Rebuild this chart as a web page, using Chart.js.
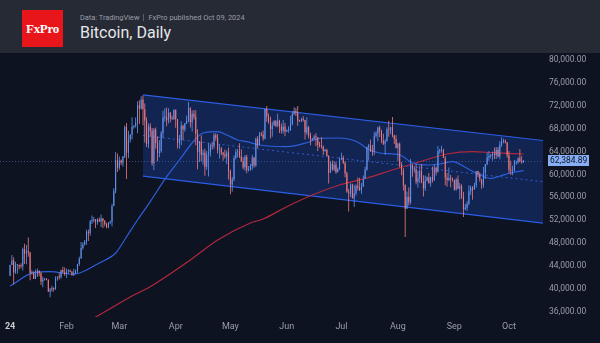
<!DOCTYPE html>
<html><head><meta charset="utf-8">
<script src="https://cdn.jsdelivr.net/npm/chart.js@4.4.1/dist/chart.umd.min.js"></script>
<style>
html,body{margin:0;padding:0;width:600px;height:343px;overflow:hidden;background:#0d1321;font-family:Roboto,"Noto Sans",sans-serif;}
#hdr{position:absolute;left:0;top:0;width:600px;height:53px;background:#262a35;}
#logo{position:absolute;left:22px;top:10px;width:41px;height:37px;background:#e8161b;color:#fff;font:bold 13px "Liberation Serif","DejaVu Serif",serif;display:flex;align-items:center;justify-content:center;letter-spacing:-0.3px;}
#sub{position:absolute;left:80px;top:13px;font-size:7.4px;line-height:9px;color:#9a9ea8;white-space:nowrap;}
#sub .sep{display:inline-block;width:1px;height:7px;background:#5a5f6b;margin:0 4px;vertical-align:-1px;}
#title{position:absolute;left:80px;top:23px;font-size:16px;line-height:19px;color:#e6e7ea;white-space:nowrap;}
#wrap{position:absolute;left:0;top:53px;width:600px;height:290px;}
</style></head>
<body>
<div id="hdr">
  <div id="logo">FxPro</div>
  <div id="sub">Data: TradingView<span class="sep"></span>FxPro published Oct 09, 2024</div>
  <div id="title">Bitcoin, Daily</div>
</div>
<div id="wrap"><canvas id="c" width="600" height="290"></canvas></div>
<script>
// Daily candles, 1 Jan 2024 (day 0) .. 9 Oct 2024 (day 282), one line per month
const opens = [
42280,44180,44950,42850,44150,44160,43960,43930,46970,46120,46630,46350,42780,42840,41740,42510,43150,42740,41270,41620,41680,41560,39540,39890,40090,39960,41820,42120,42030,43300,42950,
42580,43080,43190,43000,42580,42660,43090,44340,45290,47130,47770,48290,49960,49730,51830,51940,52150,51670,52140,51780,52280,51850,51330,50740,51570,51730,54490,57050,62500,
61170,62440,62030,63140,68300,63800,66110,66930,68300,68500,69020,72100,71480,73100,71400,69410,65300,68390,67600,61940,67850,65500,63780,64060,67230,69950,69990,69450,70780,69850,69630,
71290,69650,65460,65960,68500,67840,68900,69360,71620,69140,70590,70060,67120,63920,65740,63430,63800,61280,63470,63820,64940,64930,66840,66410,64290,64500,63770,63460,63120,63840,
60610,58250,59120,62890,63890,64030,63160,62330,61190,63070,60790,60830,61480,62920,61580,66250,65230,67040,66940,66280,71450,70140,69120,67930,68530,69280,68510,69390,68350,67620,68360,
67500,67750,67790,68800,70570,71080,70800,69360,69300,69650,69510,67320,68240,66750,66010,66190,66640,66490,65150,64960,64850,64100,64250,63200,60280,61800,60860,61680,60370,60940,
62680,62850,62030,60200,57000,56650,58250,55850,56700,57990,57720,57330,57890,59220,60800,64730,65050,64100,63980,66700,67150,68180,67590,65930,65380,65800,67900,67820,68250,66790,66200,
64620,65350,61500,60700,58120,54020,56050,55120,61700,60880,60950,58700,59350,60600,58740,57560,58880,59480,58450,59490,59020,61170,60390,64100,64180,64250,62880,59420,59040,59380,59120,
58970,57330,59130,57490,57980,56160,53950,54160,54880,57050,57650,57340,58130,60550,60020,59180,58210,60310,61760,62950,63200,63380,63600,63330,64300,63140,65180,65790,65880,65620,
63330,60800,60650,60750,62080,62090,62820,62250,62150];
const highs = [
44190,45900,45500,44750,44350,44230,44480,47240,47900,47650,48970,46500,43250,43080,43400,43570,43200,42930,42150,41880,41900,41690,40130,40540,40270,42200,42200,42800,43300,43840,43730,
43550,43420,43380,43100,43500,43370,44370,45600,48200,48150,48550,50330,50370,52040,52820,52570,52180,52350,52490,52980,52370,52030,51550,51700,51960,54890,57580,63920,63670,
63150,62600,63240,68550,69000,67640,67000,69990,68590,69940,72800,72950,73650,73780,72400,70000,68900,68950,68100,68100,68200,66650,65970,67600,71150,71550,71700,71550,70900,70300,71350,
71340,69670,66900,69280,68700,69000,70300,72700,71740,71170,71270,71230,67900,65850,66850,64350,64480,64100,65450,65390,65700,67200,67200,67070,65280,64800,63900,64350,64200,64720,
60800,59570,63300,64400,64500,65450,64380,62980,63400,63450,61450,61800,63420,63100,66450,66700,67400,67400,67670,71500,71950,70630,70090,69200,69500,69500,70600,69550,68900,69500,69000,
67850,68400,70250,71050,71750,71600,71950,69550,69900,70150,69560,69980,68450,67300,66400,66950,67200,66500,65700,66480,65070,64500,64500,63370,62300,62450,62300,62200,61200,63000,
63800,63250,62250,60480,57500,58450,58350,58200,58300,59450,59400,58500,59800,61350,64900,65350,66100,65150,67400,67600,68350,68500,67800,67100,66150,68250,69400,68300,70050,66950,66850,
65600,65600,62150,61100,58300,57000,57700,62700,61750,61450,61850,60650,61550,61800,59850,59800,59650,60250,59600,61400,61800,61400,64950,64500,65000,64500,63200,60250,61200,59900,59450,
59100,59400,59800,58500,58300,56950,54850,55300,58100,58000,57950,58550,60600,60650,60400,59200,61300,61800,63850,64100,63550,64000,64700,64800,64800,65850,66500,66250,66100,65620,
64100,62400,61500,62500,62400,63000,64450,63200,62500];
const lows = [
42190,44150,40750,42630,42620,43400,43600,43200,44350,44300,45600,41500,42440,41710,41720,42050,42200,40690,40280,41460,41500,39440,38520,39490,39540,39830,41400,41650,41800,42700,42300,
41880,42580,42880,42250,42260,42580,42780,44000,45250,46850,47560,47700,48350,49300,51330,51600,50650,51200,51680,50800,50650,50950,50580,50600,51300,50900,54450,56700,60420,
60800,61650,61360,62890,59220,62850,65600,66100,67980,68200,67200,68800,71350,68600,65600,64800,64600,66600,61500,60780,64500,62300,63000,63800,66400,69250,68400,68900,69100,69600,69560,
68150,64550,64500,65100,66000,67450,68800,69100,68220,67500,69580,65100,60900,62150,62300,61750,59750,60800,59650,63150,64290,64500,65900,63650,62800,63350,62400,62800,61800,59100,
56550,56950,58800,62600,62950,62850,62200,60900,60650,60200,60500,60630,60800,61150,61330,64630,65100,66650,65870,66100,69200,68850,66300,66600,68500,68250,68250,67250,67150,67150,66650,
67400,67300,67600,68570,70400,70200,68500,69200,69150,69250,66100,66900,66300,65080,65900,66050,64950,64100,64700,64550,63400,63950,63150,58400,60250,60640,60600,60100,60360,60760,
62520,61800,59500,56800,53500,56050,55800,54300,56300,57200,57100,56600,57800,59200,60650,62450,63900,63250,63350,66450,65800,66550,65450,65150,63450,65750,66600,67050,66500,65300,64550,
62300,61200,59850,57200,49050,54000,54550,54750,59600,60300,58300,57650,58500,58450,56150,57100,58800,58400,57850,58600,58850,59800,60380,63600,63800,62850,58100,57850,58800,57750,58750,
57200,57150,57450,55600,55700,52550,53750,53650,54600,56400,55550,57300,57650,59500,58700,57500,57650,59200,61600,62400,62800,62400,62700,62700,62950,62650,64850,65450,65400,62900,
60200,59900,59850,60500,61700,61850,62150,61850,62000];
const closes = [
44180,44950,42850,44150,44160,43960,43930,46970,46120,46630,46350,42780,42840,41740,42510,43150,42740,41270,41620,41680,41560,39540,39890,40090,39960,41820,42120,42030,43300,42950,42580,
43080,43190,43000,42580,42660,43090,44340,45290,47130,47770,48290,49960,49730,51830,51940,52150,51670,52140,51780,52280,51850,51330,50740,51570,51730,54490,57050,62500,61170,
62440,62030,63140,68300,63800,66110,66930,68300,68500,69020,72100,71480,73100,71400,69410,65300,68390,67600,61940,67850,65500,63780,64060,67230,69950,69990,69450,70780,69850,69630,71290,
69650,65460,65960,68500,67840,68900,69360,71620,69140,70590,70060,67120,63920,65740,63430,63800,61280,63470,63820,64940,64930,66840,66410,64290,64500,63770,63460,63120,63840,60610,
58250,59120,62890,63890,64030,63160,62330,61190,63070,60790,60830,61480,62920,61580,66250,65230,67040,66940,66280,71450,70140,69120,67930,68530,69280,68510,69390,68350,67620,68360,67500,
67750,67790,68800,70570,71080,70800,69360,69300,69650,69510,67320,68240,66750,66010,66190,66640,66490,65150,64960,64850,64100,64250,63200,60280,61800,60860,61680,60370,60940,62680,
62850,62030,60200,57000,56650,58250,55850,56700,57990,57720,57330,57890,59220,60800,64730,65050,64100,63980,66700,67150,68180,67590,65930,65380,65800,67900,67820,68250,66790,66200,64620,
65350,61500,60700,58120,54020,56050,55120,61700,60880,60950,58700,59350,60600,58740,57560,58880,59480,58450,59490,59020,61170,60390,64100,64180,64250,62880,59420,59040,59380,59120,58970,
57330,59130,57490,57980,56160,53950,54160,54880,57050,57650,57340,58130,60550,60020,59180,58210,60310,61760,62950,63200,63380,63600,63330,64300,63140,65180,65790,65880,65620,63330,
60800,60650,60750,62080,62090,62820,62250,62150,62384.89];

// 50-day moving average (blue): day index / value
const ma50Days   = [0,13,22,35,42,49,58,64,70,77,86,93,100,106,114,119,125,130,137,152,163,170,181,188,192,196,203,214,221,229,236,243,251,258,264,269,275,282];
const ma50Values = [40500,42820,43000,42540,43290,44520,46260,49110,52030,55250,59600,62520,65490,67240,67470,66890,66020,65720,65140,64850,65540,66310,66370,66020,65440,64530,63740,63390,62000,61650,61820,62220,61070,59900,59290,59720,60250,60650];
// 200-day moving average (red)
const ma200Days   = [42,48,68,77,99,114,132,139,152,166,181,188,196,210,225,240,254,265,282];
const ma200Values = [34200,35250,38920,40370,45040,48540,51510,52210,54360,56400,58150,58730,59370,60770,62220,63570,63970,63800,63570];

// Descending parallel channel drawn from the 14 Mar high
const channelDays   = [73, 292.7];
const channelTop    = [73900, 65930];
const channelMid    = [66800, 58720];
const channelBottom = [59700, 51500];

// Axis ticks
const monthTickDays   = [0,31,60,91,121,152,182,213,244,274];
const monthTickLabels = ['24','Feb','Mar','Apr','May','Jun','Jul','Aug','Sep','Oct'];
const yTickValues = [36000,40000,44000,48000,52000,56000,60000,64000,68000,72000,76000,80000];

const UP = '#6594ee', DOWN = '#ef7a7c';
const lastClose = closes[closes.length - 1];
const isUp = i => closes[i] >= opens[i];
const wickData = opens.map((_, i) => ({x: i, y: [lows[i], highs[i]]}));
const bodyData = opens.map((_, i) => ({x: i, y: [opens[i], closes[i]]}));
const pts = (xs, ys) => xs.map((x, k) => ({x, y: ys[k]}));
const fmt = v => v.toLocaleString('en-US', {minimumFractionDigits: 2, maximumFractionDigits: 2});

const extras = {
  id: 'extras',
  beforeDatasetsDraw(chart) {
    const {ctx, chartArea: a, scales: {y}} = chart;
    const py = Math.round(y.getPixelForValue(lastClose)) + 0.5;
    ctx.save();
    ctx.strokeStyle = 'rgba(120,150,215,0.45)';
    ctx.lineWidth = 1;
    ctx.setLineDash([1, 2]);
    ctx.beginPath(); ctx.moveTo(a.left, py); ctx.lineTo(a.right, py); ctx.stroke();
    ctx.restore();
  },
  afterDraw(chart) {
    const {ctx, chartArea: a, scales: {y}} = chart;
    const py = y.getPixelForValue(lastClose);
    ctx.save();
    ctx.fillStyle = '#87aef6';
    ctx.fillRect(a.right + 5, Math.round(py - 5.5), 41, 11);
    ctx.fillStyle = '#0d1321';
    ctx.font = '8.5px Roboto, sans-serif';
    ctx.textBaseline = 'middle';
    ctx.textAlign = 'left';
    ctx.fillText(fmt(lastClose), a.right + 7, py + 0.5);
    ctx.restore();
  }
};

new Chart(document.getElementById('c'), {
  type: 'bar',
  data: {
    datasets: [
      {type: 'line', data: pts(channelDays, channelTop), borderColor: '#2c5ee6', borderWidth: 1.2,
       backgroundColor: 'rgba(38,92,240,0.24)', fill: '+1', pointRadius: 0, order: 10},
      {type: 'line', data: pts(channelDays, channelBottom), borderColor: '#2c5ee6', borderWidth: 1.2,
       fill: false, pointRadius: 0, order: 10},
      {type: 'line', data: pts(channelDays, channelMid), borderColor: 'rgba(60,110,240,0.75)', borderWidth: 1,
       borderDash: [2, 3], fill: false, pointRadius: 0, order: 9},
      {type: 'line', data: pts(ma50Days, ma50Values), borderColor: '#2d5fdc', borderWidth: 1.2,
       cubicInterpolationMode: 'monotone', fill: false, pointRadius: 0, order: 4},
      {type: 'line', data: pts(ma200Days, ma200Values), borderColor: '#b3283c', borderWidth: 1.2,
       cubicInterpolationMode: 'monotone', fill: false, pointRadius: 0, order: 4},
      {data: wickData, grouped: false, barThickness: 1, maxBarThickness: 0.8, inflateAmount: 0, borderWidth: 0,
       backgroundColor: c => isUp(c.dataIndex) ? UP : DOWN, order: 2},
      {data: bodyData, grouped: false, barThickness: 1, maxBarThickness: 1.5, inflateAmount: 0, borderWidth: 0,
       minBarLength: 1, backgroundColor: c => isUp(c.dataIndex) ? UP : DOWN, order: 1}
    ]
  },
  options: {
    responsive: false,
    animation: false,
    events: [],
    layout: {padding: 0},
    plugins: {legend: {display: false}, tooltip: {enabled: false}},
    scales: {
      x: {
        type: 'linear', min: -5.52, max: 292.7, offset: false,
        grid: {display: false, drawTicks: false}, border: {display: false},
        afterBuildTicks: s => { s.ticks = monthTickDays.map(v => ({value: v})); },
        ticks: {
          autoSkip: false, maxRotation: 0, padding: 4,
          color: c => c.index === 0 ? '#c9cbd1' : '#9a9ea8',
          font: c => ({family: 'Roboto', size: 9, weight: c.index === 0 ? 'bold' : 'normal'}),
          callback: (v, i) => monthTickLabels[i]
        },
        afterFit: s => { s.height = 26; s.paddingLeft = 0; s.paddingRight = 0; s.paddingTop = 0; s.paddingBottom = 0; }
      },
      y: {
        type: 'linear', position: 'right', min: 35076, max: 81224,
        grid: {display: false, drawTicks: false}, border: {display: false},
        afterBuildTicks: s => { s.ticks = yTickValues.map(v => ({value: v})); },
        ticks: {padding: 6, color: '#9a9ea8', font: {family: 'Roboto', size: 8.5}, callback: v => fmt(v)},
        afterFit: s => { s.width = 57; s.paddingLeft = 0; s.paddingRight = 0; s.paddingTop = 0; s.paddingBottom = 0; }
      }
    }
  },
  plugins: [extras]
});
</script>
</body></html>
